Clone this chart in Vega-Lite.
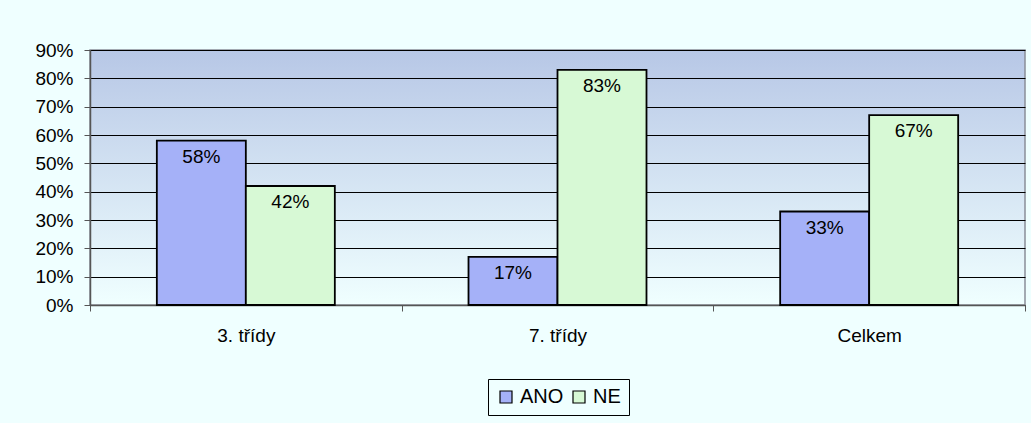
{
  "$schema": "https://vega.github.io/schema/vega-lite/v6.json",
  "autosize": {"type": "none"},
  "width": 935,
  "height": 255,
  "padding": {"left": 90, "top": 50, "right": 6, "bottom": 118},
  "background": "#EFFFFF",
  "config": {
    "font": "Liberation Sans",
    "view": {
      "fill": {"gradient": "linear", "x1": 0, "y1": 0, "x2": 0, "y2": 1, "stops": [{"offset": 0, "color": "#B7C7E6"}, {"offset": 1, "color": "#F0FFFF"}]},
      "stroke": "#8A8F99",
      "strokeWidth": 1.5
    }
  },
  "data": {
    "values": [
      {"group": "3. třídy", "series": "ANO", "value": 0.58},
      {"group": "3. třídy", "series": "NE", "value": 0.42},
      {"group": "7. třídy", "series": "ANO", "value": 0.17},
      {"group": "7. třídy", "series": "NE", "value": 0.83},
      {"group": "Celkem", "series": "ANO", "value": 0.33},
      {"group": "Celkem", "series": "NE", "value": 0.67}
    ]
  },
  "encoding": {
    "x": {
      "field": "group", "type": "nominal", "sort": null,
      "scale": {"paddingInner": 0, "paddingOuter": 0, "round": false},
      "axis": {"title": null, "labelAngle": 0, "tickBand": "extent", "tickSize": 6, "tickColor": "#555555", "domainColor": "#555555", "domainWidth": 1.5, "labelFontSize": 19, "labelColor": "#000000", "labelPadding": 15, "grid": false}
    },
    "xOffset": {
      "field": "series", "type": "nominal",
      "scale": {"domain": ["ANO", "NE"], "paddingInner": 0, "paddingOuter": 0.751}
    },
    "y": {
      "field": "value", "type": "quantitative",
      "scale": {"domain": [0, 0.9], "nice": false, "zero": true},
      "axis": {"title": null, "values": [0, 0.1, 0.2, 0.3, 0.4, 0.5, 0.6, 0.7, 0.8, 0.9], "format": ".0%", "grid": true, "gridColor": "#000000", "gridWidth": 1, "gridOpacity": 1, "tickSize": 6, "tickColor": "#555555", "domainColor": "#555555", "domainWidth": 1.5, "labelFontSize": 19, "labelColor": "#000000", "labelPadding": 11}
    }
  },
  "layer": [
    {
      "mark": {"type": "bar", "stroke": "#000000", "strokeWidth": 1.8},
      "encoding": {
        "color": {
          "field": "series", "type": "nominal",
          "scale": {"domain": ["ANO", "NE"], "range": ["#A5B1F8", "#D7F9D5"]},
          "legend": {
            "title": null, "orient": "none", "legendX": 398, "legendY": 329,
            "direction": "horizontal", "symbolType": "square", "symbolSize": 144,
            "symbolStrokeColor": "#000000", "symbolStrokeWidth": 1.2, "symbolOpacity": 1,
            "labelFontSize": 20, "labelColor": "#000000", "labelOffset": 4, "columnPadding": 5,
            "strokeColor": "#000000", "fillColor": "#EFFFFF", "padding": 8
          }
        }
      }
    },
    {
      "mark": {"type": "text", "baseline": "middle", "align": "center", "dy": 16, "fontSize": 19, "color": "#000000"},
      "encoding": {
        "text": {"field": "value", "type": "quantitative", "format": ".0%"}
      }
    }
  ]
}
